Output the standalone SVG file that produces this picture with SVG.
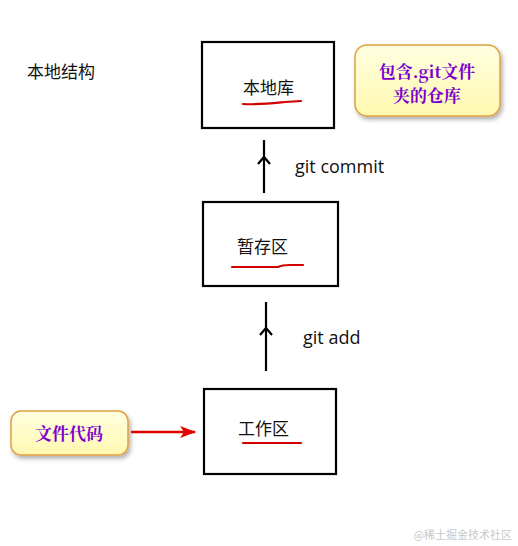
<svg xmlns="http://www.w3.org/2000/svg" width="518" height="546" viewBox="0 0 518 546">
<defs>
<linearGradient id="yg" x1="0" y1="0" x2="0" y2="1">
<stop offset="0" stop-color="#ffffe0"/>
<stop offset="1" stop-color="#fff8b0"/>
</linearGradient>
<filter id="sh" x="-10%" y="-10%" width="130%" height="140%">
<feDropShadow dx="2" dy="3" stdDeviation="2" flood-color="#000" flood-opacity="0.3"/>
</filter>
<marker id="ra" markerWidth="16" markerHeight="12" refX="15" refY="6" orient="auto" markerUnits="userSpaceOnUse" viewBox="0 0 16 12">
<path d="M0,0 L16,6 L0,12 L4,6 Z" fill="#e00000"/>
</marker>
</defs>
<style>
.box{fill:#fff;stroke:#000;stroke-width:2.2}
.t{font-family:"Noto Sans CJK SC","Noto Sans",sans-serif;font-size:17px;fill:#111}
.g{font-family:"Open Sans","Noto Sans",sans-serif;font-size:18px;fill:#111}
.ul{fill:none;stroke:#d00000;stroke-width:2.2;stroke-linecap:round}
.yb{fill:url(#yg);stroke:#e0a040;stroke-width:1.5;filter:url(#sh)}
.pt{font-family:"Noto Serif CJK SC","Noto Sans CJK SC",serif;font-size:17px;font-weight:bold;fill:#7a00d0}
.ln{stroke:#000;stroke-width:2.2;fill:none}
</style>
<text class="t" x="27" y="78" font-size="16">本地结构</text>
<g id="local-repo">
<rect class="box" x="202" y="42" width="132" height="86"/>
<text class="t" x="243" y="94">本地库</text>
<path class="ul" d="M243,104 C260,105 275,103 285,102 L301,101"/>
</g>
<g id="note-repo">
<rect class="yb" x="355" y="45" width="145" height="71" rx="12"/>
<text class="pt" x="427" y="78" text-anchor="middle">包含.git文件</text>
<text class="pt" x="427" y="102" text-anchor="middle">夹的仓库</text>
</g>
<g id="staging">
<rect class="box" x="203" y="202" width="135" height="84"/>
<text class="t" x="237" y="253">暂存区</text>
<path class="ul" d="M232,267 L278,267 C282,265 285,265 290,265 L303,265"/>
</g>
<g id="workdir">
<rect class="box" x="204" y="389" width="132" height="85"/>
<text class="t" x="238" y="435">工作区</text>
<path class="ul" d="M243,443 L301,443"/>
</g>
<g id="note-code">
<rect class="yb" x="11" y="411" width="117" height="44" rx="10"/>
<text class="pt" x="69" y="440" text-anchor="middle">文件代码</text>
</g>
<g id="connectors">
<line class="ln" x1="264" y1="140" x2="264" y2="193"/>
<path class="ln" d="M258,164 L264,157 L270,164"/>
<text class="g" x="295" y="173">git commit</text>
<line class="ln" x1="266" y1="302" x2="266" y2="371"/>
<path class="ln" d="M260,335 L266,328 L272,335"/>
<text class="g" x="303" y="344">git add</text>
<line x1="131" y1="432" x2="195" y2="432" stroke="#e00000" stroke-width="2.5" marker-end="url(#ra)"/>
</g>
<text x="512" y="539" text-anchor="end" font-family="Noto Sans CJK SC,sans-serif" font-size="11" fill="#c8c8c8">@稀土掘金技术社区</text>
</svg>
